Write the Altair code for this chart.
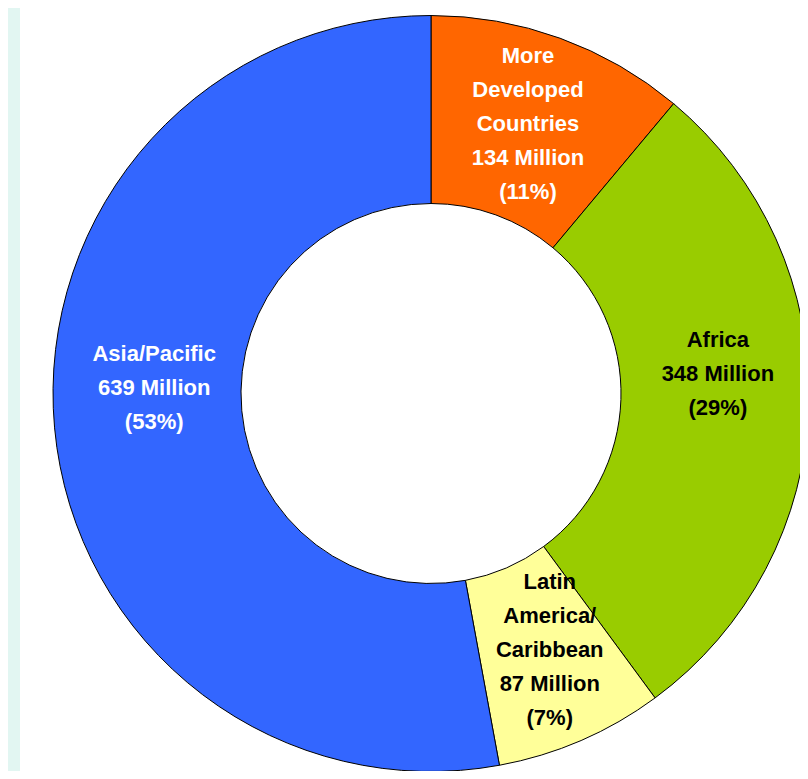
import altair as alt
import pandas as pd

# ---- data ----
regions = ["More Developed Countries", "Africa", "Latin America/Caribbean", "Asia/Pacific"]
millions = [134, 348, 87, 639]
percents = [11, 29, 7, 53]
name_lines = [["More", "Developed", "Countries"], ["Africa"], ["Latin", "America/", "Caribbean"], ["Asia/Pacific"]]
fill_colors = ["#FF6600", "#99CC00", "#FFFF99", "#3366FF"]
text_colors = ["#FFFFFF", "#000000", "#000000", "#FFFFFF"]
label_dx = [0, 3, 6, 6]
label_dy = [-3, -28, -4, -31]

LINE_H = 34
label_lines = [n + [f"{m} Million", f"({p}%)"] for n, m, p in zip(name_lines, millions, percents)]
labels = ["\n".join(l) for l in label_lines]
# shift so that the multi-line block is centred on its anchor
block_dy = [d - (len(l) - 1) * LINE_H / 2 for d, l in zip(label_dy, label_lines)]

df = pd.DataFrame({
    "region": regions,
    "value": millions,
    "order": list(range(len(regions))),
    "label": labels,
})

CX, CY = 423, 385.5
R_OUT, R_IN = 378, 190

base = alt.Chart(df).encode(
    theta=alt.Theta("value:Q", stack=True),
    order=alt.Order("order:Q"),
    x=alt.value(CX),
    y=alt.value(CY),
)

arcs = base.mark_arc(outerRadius=R_OUT, innerRadius=R_IN, stroke="#000000", strokeWidth=1).encode(
    color=alt.Color("region:N", scale=alt.Scale(domain=regions, range=fill_colors), legend=None)
)

texts = []
for i, r in enumerate(regions):
    t = base.mark_text(
        radius=284, dx=label_dx[i], dy=block_dy[i],
        font="Liberation Sans", fontWeight="bold", fontSize=22,
        lineBreak="\n", lineHeight=LINE_H, align="center", baseline="middle",
        fill=text_colors[i],
    ).encode(
        text="label:N",
        opacity=alt.condition(alt.datum.region == r, alt.value(1), alt.value(0)),
    )
    texts.append(t)

strip = alt.Chart(pd.DataFrame({"a": [0]})).mark_rect(color="#E2F6F2").encode(
    x=alt.value(0), x2=alt.value(12), y=alt.value(0), y2=alt.value(763)
)

chart = alt.layer(strip, arcs, *texts).properties(
    width=792, height=763, padding=0,
    autosize=alt.AutoSizeParams(type="none"),
    background="#FFFFFF",
).configure_view(stroke=None)

chart.save("out.html", embed_options={"renderer": "svg", "actions": False})
